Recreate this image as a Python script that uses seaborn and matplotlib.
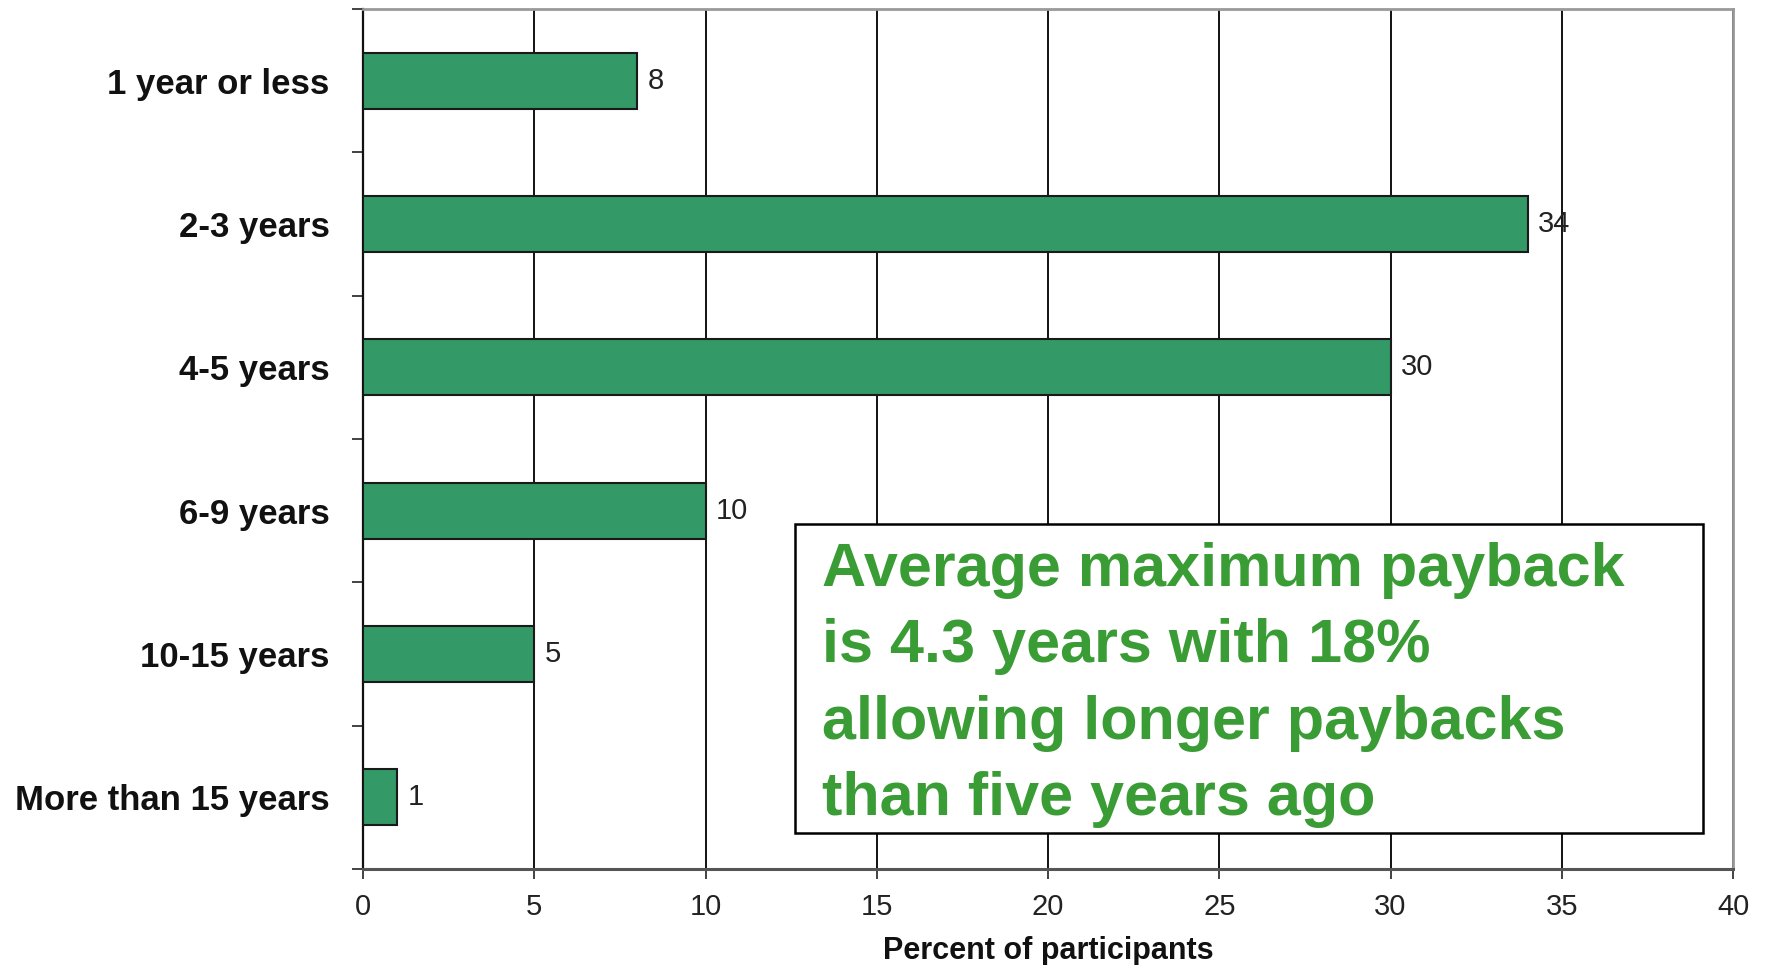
import matplotlib
matplotlib.use("Agg")
import matplotlib.pyplot as plt
import seaborn as sns
import pandas as pd

# chart data
categories = ['1 year or less', '2-3 years', '4-5 years', '6-9 years', '10-15 years', 'More than 15 years']
percent = [8, 34, 30, 10, 5, 1]
x_ticks = [0, 5, 10, 15, 20, 25, 30, 35, 40]
note = 'Average maximum payback\nis 4.3 years with 18%\nallowing longer paybacks\nthan five years ago'

df = pd.DataFrame({'Payback': categories, 'Percent': percent})

sns.set_style('white')
plt.rcParams['font.family'] = ['Liberation Sans', 'DejaVu Sans']

fig = plt.figure(figsize=(17.67, 9.65), dpi=100)
ax = fig.add_axes([363 / 1767, 1 - 869 / 965, (1733 - 363) / 1767, (869 - 9) / 965])

sns.barplot(data=df, y='Payback', x='Percent', orient='h', color='#339966',
            saturation=1, width=0.39, edgecolor='#1a1a1a', linewidth=1.5, ax=ax, zorder=3)

ax.set_xlim(0, 40)
ax.set_ylim(len(categories) - 0.5, -0.5)
ax.set_xticks(x_ticks)
ax.set_xticklabels([str(t) for t in x_ticks], fontsize=21, color='#222222')
ax.tick_params(axis='x', bottom=True, direction='out', length=7, width=1.2, color='#222222', pad=10)

# category labels on the bar centres, tick marks on the boundaries
ax.set_yticks(range(len(categories)))
ax.set_yticklabels(categories, fontsize=25, fontweight='bold', color='#111111')
ax.tick_params(axis='y', which='major', left=False, length=0, pad=24)
ax.set_yticks([i + 0.5 for i in range(-1, len(categories))], minor=True)
ax.tick_params(axis='y', which='minor', left=True, direction='out', length=8, width=1.2, color='#222222')

ax.xaxis.grid(True, color='#111111', linewidth=1.4, zorder=0)
ax.set_axisbelow(True)

for side in ['top', 'right']:
    ax.spines[side].set_color('#999999')
    ax.spines[side].set_linewidth(2)
ax.spines['left'].set_color('#111111')
ax.spines['left'].set_linewidth(1.6)
ax.spines['bottom'].set_color('#555555')
ax.spines['bottom'].set_linewidth(2.2)

ax.set_ylabel('')
ax.set_xlabel('Percent of participants', fontsize=22, fontweight='bold', color='#111111', labelpad=11)

for i, v in enumerate(percent):
    ax.text(v + 0.3, i, str(v), va='center', ha='left', fontsize=21, color='#222222', zorder=5)

# note box
fig.patches.append(plt.Rectangle((795 / 1767, 1 - 833 / 965), (1703 - 795) / 1767, (833 - 524) / 965,
                                 transform=fig.transFigure, facecolor='white', edgecolor='black',
                                 linewidth=1.8, zorder=10))
fig.text(822 / 1767, 1 - 542 / 965, note, ha='left', va='top', fontsize=44, fontweight='bold',
         color='#3a9c35', linespacing=1.44, zorder=11,
         family=['Liberation Sans Narrow', 'Liberation Sans', 'DejaVu Sans'])

fig.savefig('out.png', dpi=100)
